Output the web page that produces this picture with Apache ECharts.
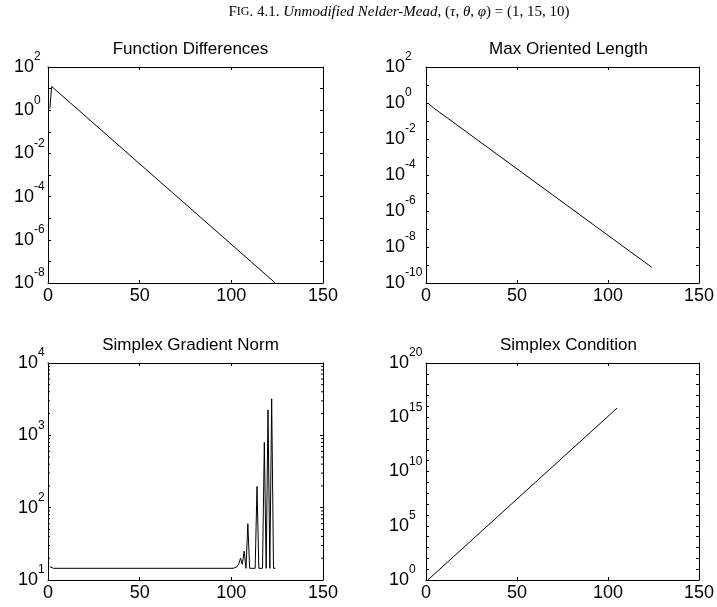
<!DOCTYPE html>
<html><head><meta charset="utf-8">
<script src="https://cdn.jsdelivr.net/npm/echarts@6/dist/echarts.min.js"></script>
<style>html,body{margin:0;padding:0;background:#fff}#c{width:717px;height:607px}</style>
</head><body><div id="c"></div>
<script>
// ---- data ----
const panelTitles = ['Function Differences', 'Max Oriented Length', 'Simplex Gradient Norm', 'Simplex Condition'];
const xTickMin = 0, xTickMax = 150, xTickStep = 50;

// Function Differences
const fdX = [1, 2, 124];
const fdY = [1.2, 12.5, 1e-8];
// Max Oriented Length
const mlX = [1, 2, 4, 124];
const mlY = [1.0, 0.8, 0.55, 7.5e-10];
// Simplex Gradient Norm
const sgX = [1, 3, 101, 102, 103, 104, 105, 106, 107, 108, 109, 110, 113, 114, 115, 117, 118, 119, 120, 121, 122, 123, 124];
const sgY = [15.3, 14.5, 14.5, 14.7, 15.2, 16.5, 20, 16.5, 25, 14.5, 60, 14.5, 14.5, 196, 14.5, 14.5, 800, 14.5, 2250, 14.5, 3200, 14.5, 14.5];
// Simplex Condition
const scX = [1, 105];
const scY = [1, 7e15];

const yMins = [1e-8, 1e-10, 1e1, 1e0];
const yMaxs = [1e2, 1e2, 1e4, 1e20];
const yLabelEvery = [2, 2, 1, 5];
const sgMinorTicks = [20, 30, 40, 50, 60, 70, 80, 90, 200, 300, 400, 500, 600, 700, 800, 900, 2000, 3000, 4000, 5000, 6000, 7000, 8000, 9000];

const seriesX = [fdX, mlX, sgX, scX];
const seriesY = [fdY, mlY, sgY, scY];

// ---- layout ----
const grids = [
  {left: 48, top: 67, width: 275, height: 216},
  {left: 426, top: 67, width: 275, height: 216},
  {left: 48, top: 363, width: 275, height: 217},
  {left: 426, top: 363, width: 275, height: 217}
];
const supW = [11, 18, 7, 14];
const FONT = 'Liberation Sans';
const black = '#000';

// measure superscript widths so that the "10" part of every label lines up
const mctx = document.createElement('canvas').getContext('2d');
mctx.font = '12px "Liberation Sans"';
function supText(e) { return e < 0 ? '-' + (-e) : String(e); }

const chart = echarts.init(document.getElementById('c'), null, {renderer: 'canvas'});
const xAxes = [], yAxes = [], series = [], titles = [];

grids.forEach((g, i) => {
  const line = {show: true, onZero: false, lineStyle: {color: black, width: 1}};
  const tick = {show: true, inside: true, length: 3, lineStyle: {color: black, width: 1}};
  xAxes.push({gridIndex: i, type: 'value', position: 'bottom', min: xTickMin, max: xTickMax, interval: xTickStep,
    axisLine: line, axisTick: tick, splitLine: {show: false},
    axisLabel: {color: black, fontFamily: FONT, fontSize: 18, margin: 4}});
  xAxes.push({gridIndex: i, type: 'value', position: 'top', min: xTickMin, max: xTickMax, interval: xTickStep,
    axisLine: line, axisTick: tick, splitLine: {show: false}, axisLabel: {show: false}});
  const every = yLabelEvery[i];
  const rich = {b: {fontFamily: FONT, fontSize: 18, lineHeight: 18, color: black}};
  const lo = Math.round(Math.log10(yMins[i])), hi = Math.round(Math.log10(yMaxs[i]));
  for (let e = lo; e <= hi; e++) {
    const w = mctx.measureText(supText(e)).width;
    rich['s' + (e < 0 ? 'm' + (-e) : e)] = {fontFamily: FONT, fontSize: 12, lineHeight: 12, color: black,
      padding: [0, Math.max(0, supW[i] - w), 20, 0]};
  }
  yAxes.push({gridIndex: i, type: 'log', logBase: 10, position: 'left', min: yMins[i], max: yMaxs[i], interval: 1,
    axisLine: line, axisTick: tick, splitLine: {show: false},
    axisLabel: {margin: 3, formatter: v => {
      const e = Math.round(Math.log10(v));
      if (e % every !== 0) return '';
      return '{b|10}{s' + (e < 0 ? 'm' + (-e) : e) + '|' + supText(e) + '}';
    }, rich: rich}});
  yAxes.push({gridIndex: i, type: 'log', logBase: 10, position: 'right', min: yMins[i], max: yMaxs[i], interval: 1,
    axisLine: line, axisTick: tick, splitLine: {show: false}, axisLabel: {show: false}});
  series.push({type: 'line', xAxisIndex: 2 * i, yAxisIndex: 2 * i, showSymbol: false, symbol: 'none',
    lineStyle: {color: black, width: 1}, animation: false, silent: true,
    data: seriesX[i].map((x, k) => [x, seriesY[i][k]])});
  titles.push({text: panelTitles[i], left: g.left + g.width / 2, top: g.top - 31, textAlign: 'center',
    textStyle: {fontFamily: FONT, fontSize: 17, fontWeight: 'normal', color: black}});
});

// minor log ticks of the gradient norm panel
series.push({type: 'custom', xAxisIndex: 4, yAxisIndex: 4, silent: true, animation: false, clip: false,
  encode: {x: 0, y: 1},
  data: sgMinorTicks.map(v => [0, v]),
  renderItem: (params, api) => {
    const v = api.value(1);
    const pl = api.coord([xTickMin, v]);
    const pr = api.coord([xTickMax, v]);
    return {type: 'group', children: [
      {type: 'line', shape: {x1: pl[0], y1: pl[1], x2: pl[0] + 2, y2: pl[1]}, style: {stroke: black, lineWidth: 1}},
      {type: 'line', shape: {x1: pr[0], y1: pr[1], x2: pr[0] - 2, y2: pr[1]}, style: {stroke: black, lineWidth: 1}}
    ]};
  }});

const serif = 'Liberation Serif';
chart.setOption({
  animation: false,
  backgroundColor: '#fff',
  title: titles,
  grid: grids,
  xAxis: xAxes,
  yAxis: yAxes,
  series: series,
  graphic: [{
    type: 'text', x: 399, y: 12, silent: true,
    style: {
      text: '{f|F}{sc|IG}{n|. 4.1. }{it|Unmodified Nelder-Mead, }{n|(}{it|τ}{n|, }{it|θ}{n|, }{it|φ}{n|) = (1, 15, 10)}',
      align: 'center', verticalAlign: 'middle',
      rich: {
        f: {fontFamily: serif, fontSize: 15, fontWeight: 'normal', fill: black},
        sc: {fontFamily: serif, fontSize: 12, fontWeight: 'normal', fill: black},
        n: {fontFamily: serif, fontSize: 15, fontWeight: 'normal', fill: black},
        it: {fontFamily: serif, fontSize: 15, fontStyle: 'italic', fontWeight: 'normal', fill: black}
      }
    }
  }]
});
</script></body></html>
